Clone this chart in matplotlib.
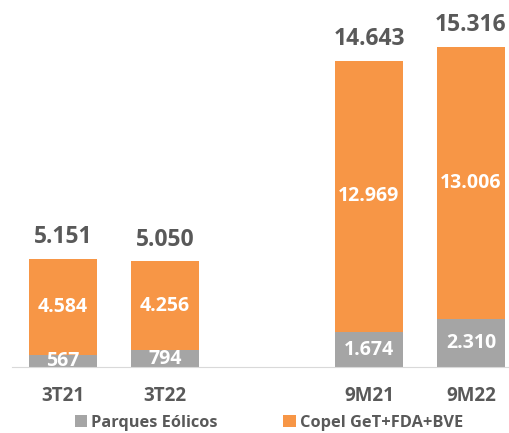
import matplotlib.pyplot as plt
import numpy as np

plt.rcParams['font.family'] = ['Open Sans', 'DejaVu Sans']

# Dados
categorias = ['3T21', '3T22', '9M21', '9M22']
parques_eolicos = [567, 794, 1674, 2310]
copel_get = [4584, 4256, 12969, 13006]
totais = [5151, 5050, 14643, 15316]

def fmt(v):
    return f'{v:,}'.replace(',', '.')

cor_cinza = '#A5A5A5'
cor_laranja = '#F79646'
cor_texto = '#595959'

fig = plt.figure(figsize=(5.1, 4.33), dpi=100)
ax = fig.add_axes([12 / 510, 66 / 433, 510 / 510, 367 / 433])

x = np.array([0, 1, 3, 4])
largura = 0.667

ax.bar(x, parques_eolicos, largura, color=cor_cinza, label='Parques Eólicos')
ax.bar(x, copel_get, largura, bottom=parques_eolicos, color=cor_laranja,
       label='Copel GeT+FDA+BVE')

for xi, g, o, t in zip(x, parques_eolicos, copel_get, totais):
    ax.text(xi, g / 2, fmt(g), ha='center', va='center', color='white',
            fontsize=14, fontweight='bold', clip_on=True)
    ax.text(xi, g + o / 2, fmt(o), ha='center', va='center', color='white',
            fontsize=14, fontweight='bold')
    ax.text(xi, t + 1050, fmt(t), ha='center', va='center', color=cor_texto,
            fontsize=16.5, fontweight='bold')

ax.set_xlim(-0.5, 4.5)
ax.set_ylim(0, 17560)
ax.set_xticks(x)
ax.set_xticklabels(categorias, fontsize=13.5, fontweight='bold', color=cor_texto)
ax.tick_params(axis='x', length=0, pad=14)
ax.set_yticks([])
for lado in ['top', 'right', 'left']:
    ax.spines[lado].set_visible(False)
ax.spines['bottom'].set_color('#D9D9D9')

leg = fig.legend(loc='center left', bbox_to_anchor=(75 / 510, 10 / 433), ncol=2,
                 frameon=False, handlelength=0.75, handleheight=0.75,
                 handletextpad=0.25, columnspacing=4.0, borderpad=0,
                 borderaxespad=0, prop={'size': 11.8, 'weight': 'bold'})
for t in leg.get_texts():
    t.set_color(cor_texto)

fig.savefig('out.png', dpi=100)
